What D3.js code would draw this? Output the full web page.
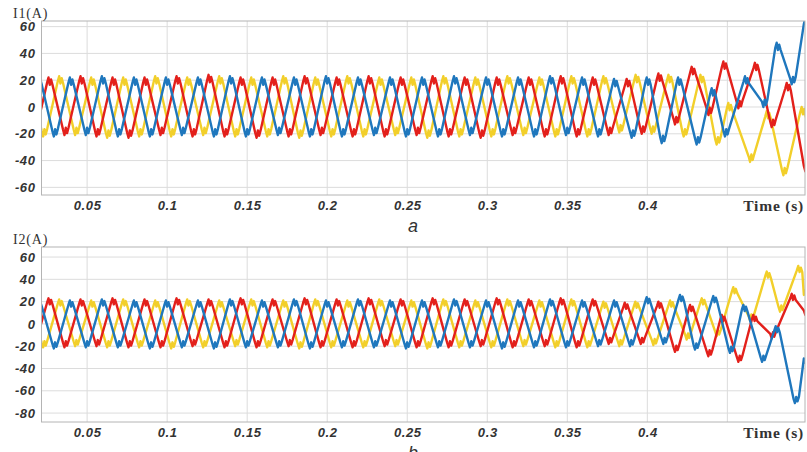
<!DOCTYPE html>
<html>
<head>
<meta charset="utf-8">
<script src="https://cdn.jsdelivr.net/npm/d3@7"></script>
<style>
  body { margin: 0; background: #fff; }
</style>
</head>
<body>
<svg id="chart" width="807" height="452"></svg>
<script>
// x ticks (s) and y ticks (A) of both panels
const timeTicks = [0.05, 0.1, 0.15, 0.2, 0.25, 0.3, 0.35, 0.4, 0.45];
const yTicksA = [-60, -40, -20, 0, 20, 40, 60];
const yTicksB = [-80, -60, -40, -20, 0, 20, 40, 60];

// steady part: peak/trough values every half period (0.01 s), first one at the start time
const halfPeriod = 0.01;
const redStartA = 0.01667, yellowStartA = 0.01333, blueStartA = 0.01;
const redSteadyA = [-22, 22, -21, 23, -22, 22, -23, 22, -21, 23,
  -22, 24, -22, 22, -23, 22, -22, 23, -21, 22,
  -22, 23, -22, 22, -21, 23, -22, 22, -23, 22,
  -21, 22, -22, 23, -22, 22, -21];
const yellowSteadyA = [22, -22, 23, -21, 22, -23, 22, -22, 23, -22,
  22, -21, 23, -22, 22, -22, 23, -23, 22, -22,
  23, -22, 22, -21, 22, -23, 23, -22, 22, -22,
  23, -21, 22, -22, 23, -22, 23];
const blueSteadyA = [-21, 22, -22, 22, -21, 23, -22, 22, -22, 22,
  -21, 22, -22, 23, -22, 22, -21, 22, -22, 23,
  -22, 22, -21, 22, -22, 22, -22, 23, -21, 22,
  -22, 22, -22, 23, -21, 22, -22];

// unstable end of panel a: [time, peak or trough]
const redTailA = [[0.3879, 21], [0.3973, -20], [0.4077, 25], [0.4181, -13], [0.4285, 30], [0.439, -6],
  [0.4483, 34], [0.4577, -1], [0.468, 33], [0.4785, -15], [0.4879, 18], [0.4995, -48]];
const yellowTailA = [[0.3833, -19], [0.3935, 24], [0.4035, -20], [0.414, 24], [0.4235, -22], [0.434, 24],
  [0.4441, -28], [0.4514, 3], [0.465, -41], [0.4754, -3], [0.4858, -51], [0.4972, 0], [0.5, -8]];
const blueTailA = [[0.38, 21], [0.391, -23], [0.4004, 22], [0.4098, -27], [0.42, 22], [0.4316, -28],
  [0.441, 14], [0.4493, -22], [0.4618, 23], [0.4733, 0], [0.4816, 48], [0.491, 17], [0.4995, 66]];

const redStartB = 0.01667, yellowStartB = 0.01333, blueStartB = 0.01;
const redSteadyB = [-20, 23, -21, 22, -20, 23, -21, 22, -21, 23,
  -20, 22, -21, 23, -21, 22, -20, 23, -21, 22,
  -21, 23, -20, 22, -21, 23, -21, 22, -20, 23,
  -21, 22, -20, 23, -21, 22, -18];
const yellowSteadyB = [21, -21, 22, -20, 21, -21, 22, -21, 21, -22,
  22, -21, 21, -20, 22, -21, 21, -22, 22, -21,
  21, -21, 22, -20, 21, -22, 22, -21, 21, -21,
  22, -20, 21, -21, 22, -21, 20];
const blueSteadyB = [-21, 21, -22, 21, -21, 22, -21, 21, -22, 21,
  -21, 21, -22, 22, -21, 21, -21, 22, -22, 21,
  -21, 22, -21, 21, -22, 21, -21, 22, -21, 21,
  -22, 21, -21, 22, -21, 21, -20];

const redTailB = [[0.3867, 19], [0.3967, -18], [0.4077, 20], [0.4181, -25], [0.4275, 17], [0.4389, -29],
  [0.4473, 8], [0.4577, -34], [0.467, 8], [0.4785, -13], [0.491, 27], [0.4995, 8]];
const yellowTailB = [[0.3833, -20], [0.3933, 20], [0.4046, -19], [0.415, 21], [0.4254, -14], [0.4348, 23],
  [0.4441, -11], [0.4545, 33], [0.465, 3], [0.4754, 47], [0.4837, 11], [0.4951, 52], [0.4995, 30]];
const blueTailB = [[0.38, 21], [0.39, -20], [0.4004, 24], [0.4108, -18], [0.4212, 26], [0.4306, -23],
  [0.442, 25], [0.4524, -26], [0.4608, 17], [0.4725, -34], [0.481, -2], [0.493, -71], [0.4995, -35]];

const colors = { red: "#e3201b", yellow: "#f2cf2a", blue: "#1f77bd" };

// join the steady extrema and the tail
function extrema(start, steady, tail) {
  return steady.map((v, i) => [start + i * halfPeriod, v]).concat(tail);
}

// each extremum carries the small harmonic ripple seen at the crests
function wavePoints(ext) {
  const pts = [];
  ext.forEach(([t, v], i) => {
    const prev = ext[i - 1] ? ext[i - 1][1] : -v;
    const next = ext[i + 1] ? ext[i + 1][1] : -v;
    const s = v > (prev + next) / 2 ? 1 : -1;
    pts.push([t - 0.0017, v - s * 4], [t - 0.0008, v], [t, v - s * 5.5],
      [t + 0.0008, v - s * 1.5], [t + 0.0017, v - s * 5.5]);
  });
  return pts;
}

const svg = d3.select("#chart");
const left = 41.5, right = 805;
const tickFont = "italic bold 13px 'Liberation Sans', Arial, sans-serif";

function panel(cfg) {
  const x = d3.scaleLinear().domain([0.0215, 0.4985]).range([left, right]);
  const y = d3.scaleLinear().domain(cfg.yDomain).range([cfg.bottom, cfg.top]);
  const g = svg.append("g");

  // grid
  g.append("g").selectAll("line").data(timeTicks).enter().append("line")
    .attr("x1", d => x(d)).attr("x2", d => x(d))
    .attr("y1", cfg.top).attr("y2", cfg.bottom)
    .attr("stroke", "#dcdcdc").attr("stroke-width", 1);
  g.append("g").selectAll("line").data(cfg.yTicks).enter().append("line")
    .attr("x1", left).attr("x2", right)
    .attr("y1", d => y(d)).attr("y2", d => y(d))
    .attr("stroke", "#dcdcdc").attr("stroke-width", 1);

  // waves
  g.append("clipPath").attr("id", cfg.id + "-clip").append("rect")
    .attr("x", left).attr("y", cfg.top).attr("width", right - left).attr("height", cfg.bottom - cfg.top);
  const line = d3.line().x(d => x(d[0])).y(d => y(d[1]));
  const waves = g.append("g").attr("clip-path", `url(#${cfg.id}-clip)`);
  cfg.series.forEach(s => {
    waves.append("path")
      .attr("d", line(wavePoints(s.ext)))
      .attr("fill", "none")
      .attr("stroke", s.color)
      .attr("stroke-width", 2.4)
      .attr("stroke-linejoin", "round");
  });

  // frame
  g.append("rect")
    .attr("x", left).attr("y", cfg.top)
    .attr("width", right - left).attr("height", cfg.bottom - cfg.top)
    .attr("fill", "none").attr("stroke", "#b4b4b4").attr("stroke-width", 1);

  // axes
  const yAxis = d3.axisLeft(y).tickValues(cfg.yTicks).tickSize(0).tickPadding(6).tickFormat(d => String(d));
  const ya = g.append("g").attr("transform", `translate(${left},0)`).call(yAxis);
  ya.select(".domain").remove();
  ya.selectAll("text")
    .style("font", tickFont).style("letter-spacing", "0.6px")
    .attr("fill", "#333");

  const xAxis = d3.axisBottom(x).tickValues(timeTicks.slice(0, -1)).tickSize(0).tickPadding(0)
    .tickFormat(d => String(d));
  const xa = g.append("g").attr("transform", `translate(0,${cfg.xLabelY})`).call(xAxis);
  xa.select(".domain").remove();
  xa.selectAll("text")
    .attr("dy", 0)
    .style("font", tickFont).style("letter-spacing", "0.6px")
    .attr("fill", "#333");

  g.append("text").attr("x", 13).attr("y", cfg.top - 3.5)
    .style("font", "14px 'Liberation Serif', 'Times New Roman', serif")
    .style("letter-spacing", "0.8px")
    .attr("fill", "#333").text(cfg.yTitle);
  g.append("text").attr("x", 804).attr("y", cfg.xLabelY + 1).attr("text-anchor", "end")
    .style("font", "bold 15.5px 'Liberation Serif', 'Times New Roman', serif")
    .style("letter-spacing", "0.8px")
    .attr("fill", "#333").text("Time (s)");
  g.append("text").attr("x", 413).attr("y", cfg.captionY).attr("text-anchor", "middle")
    .style("font", "italic 18px 'Liberation Sans', Arial, sans-serif")
    .attr("fill", "#333").text(cfg.caption);
}

panel({
  id: "pa", top: 21, bottom: 195, yDomain: [-65.7, 64.2], yTicks: yTicksA,
  xLabelY: 210, yTitle: "I1(A)", caption: "a", captionY: 232,
  series: [
    { color: colors.yellow, ext: extrema(yellowStartA, yellowSteadyA, yellowTailA) },
    { color: colors.red, ext: extrema(redStartA, redSteadyA, redTailA) },
    { color: colors.blue, ext: extrema(blueStartA, blueSteadyA, blueTailA) }
  ]
});

panel({
  id: "pb", top: 247, bottom: 422, yDomain: [-88, 69], yTicks: yTicksB,
  xLabelY: 437, yTitle: "I2(A)", caption: "b", captionY: 459,
  series: [
    { color: colors.yellow, ext: extrema(yellowStartB, yellowSteadyB, yellowTailB) },
    { color: colors.red, ext: extrema(redStartB, redSteadyB, redTailB) },
    { color: colors.blue, ext: extrema(blueStartB, blueSteadyB, blueTailB) }
  ]
});
</script>
</body>
</html>
